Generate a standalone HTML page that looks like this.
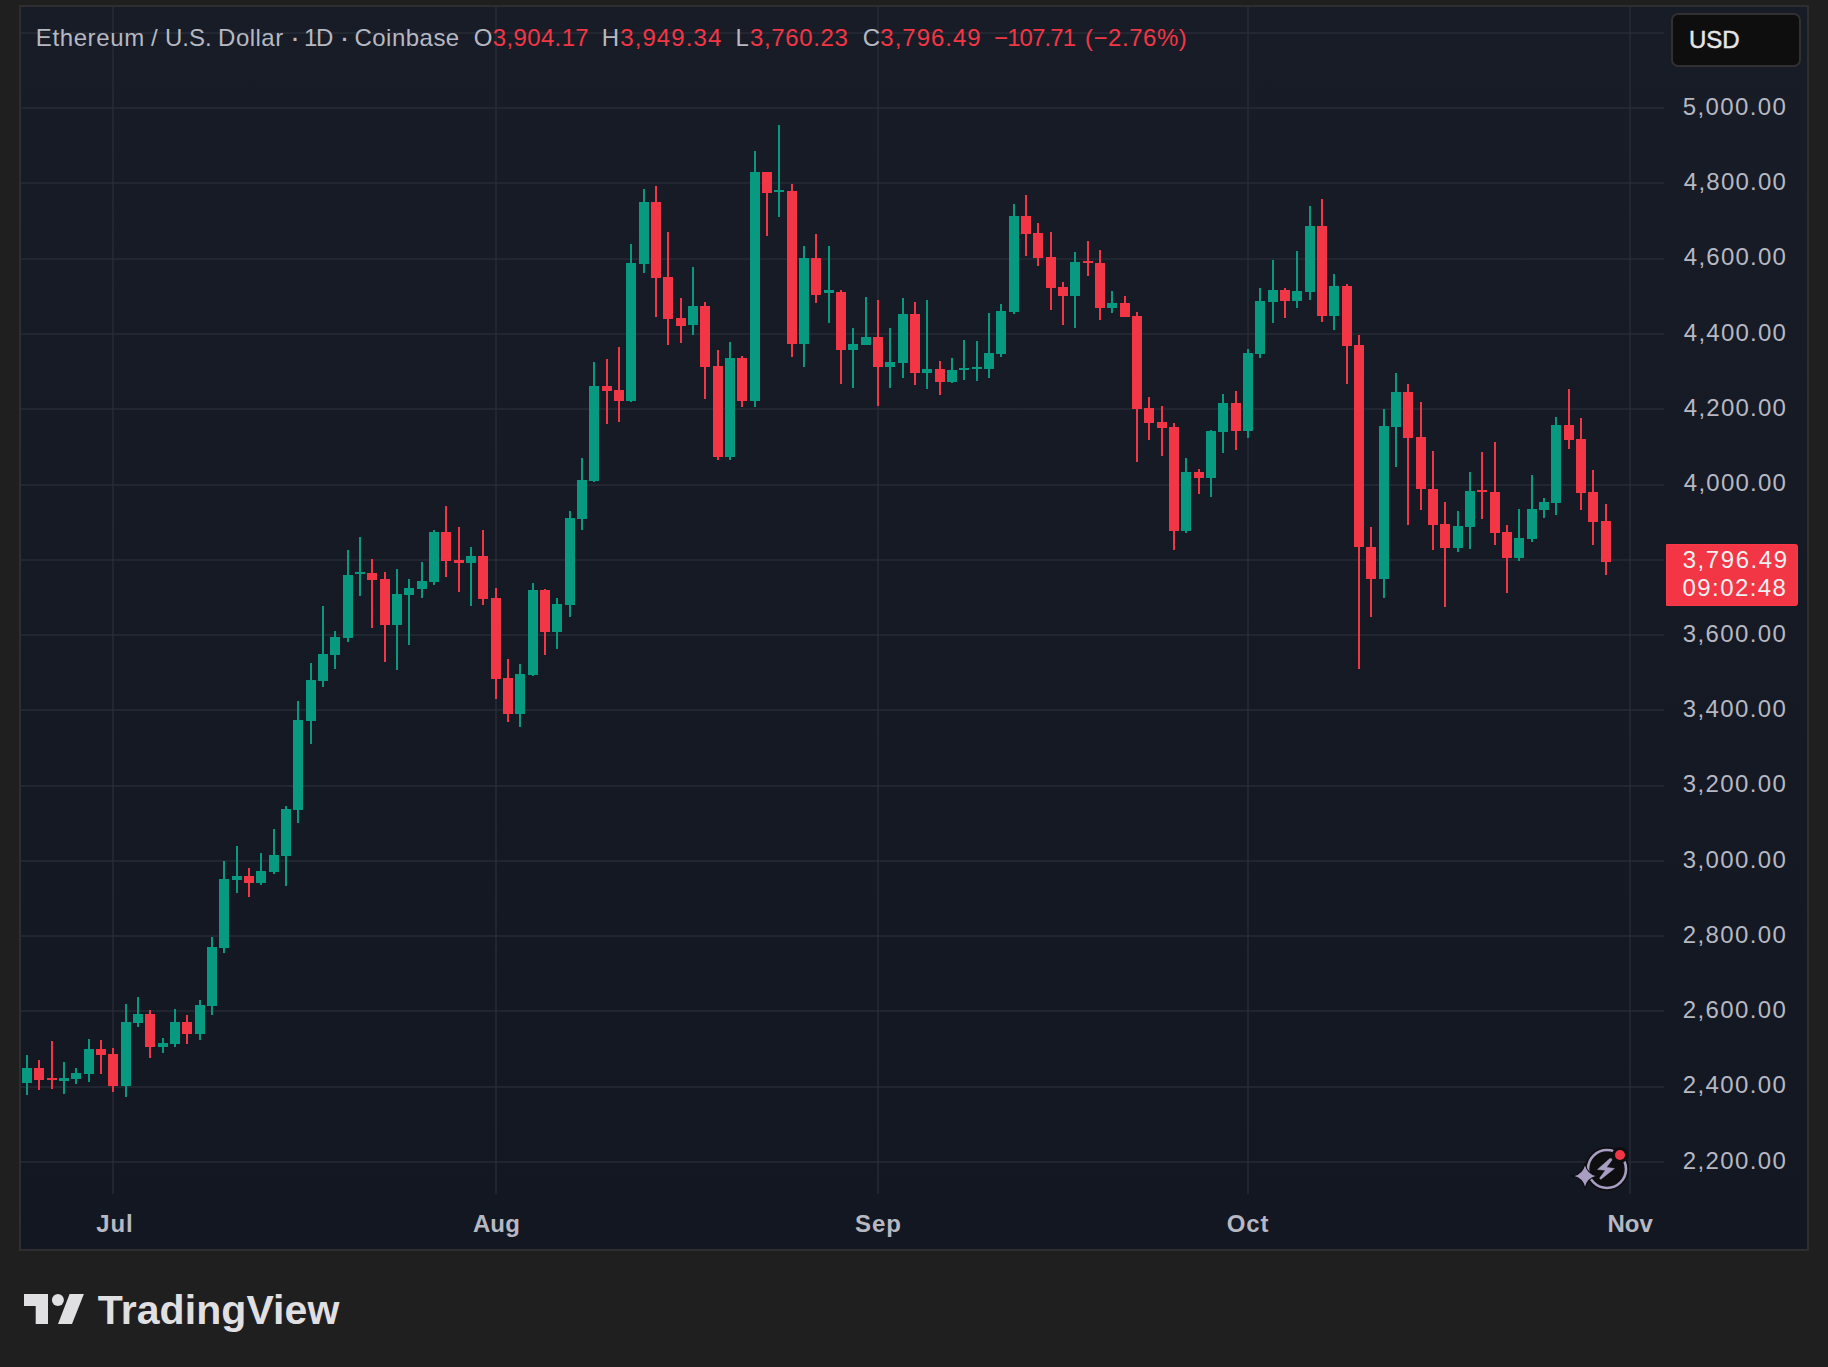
<!DOCTYPE html>
<html><head><meta charset="utf-8"><title>ETH/USD</title>
<style>
html,body{margin:0;padding:0;}
body{width:1828px;height:1367px;overflow:hidden;background:#1f1f1f;position:relative;font-family:"Liberation Sans",Arial,sans-serif;}
#box{position:absolute;left:19px;top:5px;width:1790px;height:1246px;box-sizing:border-box;border:2px solid #2e2e30;background:linear-gradient(to bottom,#181c27,#131722);}
svg{position:absolute;left:0;top:0;font-family:"Liberation Sans",Arial,sans-serif;}
</style></head>
<body>
<div id="box"></div>
<svg width="1828" height="1367" viewBox="0 0 1828 1367">
<rect x="21" y="32" width="1643" height="2" fill="rgba(42,46,57,0.6)"/>
<rect x="21" y="107" width="1643" height="2" fill="rgba(42,46,57,0.6)"/>
<rect x="21" y="182" width="1643" height="2" fill="rgba(42,46,57,0.6)"/>
<rect x="21" y="258" width="1643" height="2" fill="rgba(42,46,57,0.6)"/>
<rect x="21" y="333" width="1643" height="2" fill="rgba(42,46,57,0.6)"/>
<rect x="21" y="408" width="1643" height="2" fill="rgba(42,46,57,0.6)"/>
<rect x="21" y="484" width="1643" height="2" fill="rgba(42,46,57,0.6)"/>
<rect x="21" y="559" width="1643" height="2" fill="rgba(42,46,57,0.6)"/>
<rect x="21" y="634" width="1643" height="2" fill="rgba(42,46,57,0.6)"/>
<rect x="21" y="709" width="1643" height="2" fill="rgba(42,46,57,0.6)"/>
<rect x="21" y="785" width="1643" height="2" fill="rgba(42,46,57,0.6)"/>
<rect x="21" y="860" width="1643" height="2" fill="rgba(42,46,57,0.6)"/>
<rect x="21" y="935" width="1643" height="2" fill="rgba(42,46,57,0.6)"/>
<rect x="21" y="1010" width="1643" height="2" fill="rgba(42,46,57,0.6)"/>
<rect x="21" y="1086" width="1643" height="2" fill="rgba(42,46,57,0.6)"/>
<rect x="21" y="1161" width="1643" height="2" fill="rgba(42,46,57,0.6)"/>
<rect x="112" y="7" width="2" height="1187" fill="rgba(42,46,57,0.6)"/>
<rect x="495" y="7" width="2" height="1187" fill="rgba(42,46,57,0.6)"/>
<rect x="877" y="7" width="2" height="1187" fill="rgba(42,46,57,0.6)"/>
<rect x="1247" y="7" width="2" height="1187" fill="rgba(42,46,57,0.6)"/>
<rect x="1629" y="7" width="2" height="1187" fill="rgba(42,46,57,0.6)"/>
<rect x="26" y="1055" width="2" height="40" fill="#089981"/>
<rect x="22" y="1068" width="10" height="15" fill="#089981"/>
<rect x="38" y="1060" width="2" height="30" fill="#f23645"/>
<rect x="34" y="1068" width="10" height="12" fill="#f23645"/>
<rect x="51" y="1041" width="2" height="48" fill="#f23645"/>
<rect x="47" y="1078" width="10" height="2" fill="#f23645"/>
<rect x="63" y="1062" width="2" height="32" fill="#089981"/>
<rect x="59" y="1078" width="10" height="3" fill="#089981"/>
<rect x="75" y="1068" width="2" height="16" fill="#089981"/>
<rect x="71" y="1073" width="10" height="6" fill="#089981"/>
<rect x="88" y="1039" width="2" height="43" fill="#089981"/>
<rect x="84" y="1049" width="10" height="25" fill="#089981"/>
<rect x="100" y="1040" width="2" height="34" fill="#f23645"/>
<rect x="96" y="1049" width="10" height="6" fill="#f23645"/>
<rect x="112" y="1048" width="2" height="44" fill="#f23645"/>
<rect x="108" y="1054" width="10" height="32" fill="#f23645"/>
<rect x="125" y="1004" width="2" height="93" fill="#089981"/>
<rect x="121" y="1022" width="10" height="64" fill="#089981"/>
<rect x="137" y="997" width="2" height="30" fill="#089981"/>
<rect x="133" y="1014" width="10" height="9" fill="#089981"/>
<rect x="149" y="1010" width="2" height="48" fill="#f23645"/>
<rect x="145" y="1014" width="10" height="33" fill="#f23645"/>
<rect x="162" y="1038" width="2" height="15" fill="#089981"/>
<rect x="158" y="1043" width="10" height="4" fill="#089981"/>
<rect x="174" y="1009" width="2" height="38" fill="#089981"/>
<rect x="170" y="1022" width="10" height="22" fill="#089981"/>
<rect x="186" y="1015" width="2" height="29" fill="#f23645"/>
<rect x="182" y="1022" width="10" height="12" fill="#f23645"/>
<rect x="199" y="1000" width="2" height="40" fill="#089981"/>
<rect x="195" y="1005" width="10" height="29" fill="#089981"/>
<rect x="211" y="937" width="2" height="78" fill="#089981"/>
<rect x="207" y="947" width="10" height="59" fill="#089981"/>
<rect x="223" y="861" width="2" height="92" fill="#089981"/>
<rect x="219" y="879" width="10" height="69" fill="#089981"/>
<rect x="236" y="846" width="2" height="47" fill="#089981"/>
<rect x="232" y="876" width="10" height="4" fill="#089981"/>
<rect x="248" y="868" width="2" height="29" fill="#f23645"/>
<rect x="244" y="876" width="10" height="7" fill="#f23645"/>
<rect x="260" y="853" width="2" height="32" fill="#089981"/>
<rect x="256" y="871" width="10" height="12" fill="#089981"/>
<rect x="273" y="829" width="2" height="45" fill="#089981"/>
<rect x="269" y="855" width="10" height="17" fill="#089981"/>
<rect x="285" y="806" width="2" height="80" fill="#089981"/>
<rect x="281" y="809" width="10" height="47" fill="#089981"/>
<rect x="297" y="701" width="2" height="122" fill="#089981"/>
<rect x="293" y="720" width="10" height="90" fill="#089981"/>
<rect x="310" y="663" width="2" height="81" fill="#089981"/>
<rect x="306" y="680" width="10" height="41" fill="#089981"/>
<rect x="322" y="606" width="2" height="81" fill="#089981"/>
<rect x="318" y="654" width="10" height="27" fill="#089981"/>
<rect x="334" y="631" width="2" height="38" fill="#089981"/>
<rect x="330" y="637" width="10" height="18" fill="#089981"/>
<rect x="347" y="550" width="2" height="92" fill="#089981"/>
<rect x="343" y="575" width="10" height="63" fill="#089981"/>
<rect x="359" y="537" width="2" height="59" fill="#089981"/>
<rect x="355" y="572" width="10" height="2" fill="#089981"/>
<rect x="371" y="559" width="2" height="69" fill="#f23645"/>
<rect x="367" y="573" width="10" height="7" fill="#f23645"/>
<rect x="384" y="572" width="2" height="90" fill="#f23645"/>
<rect x="380" y="579" width="10" height="46" fill="#f23645"/>
<rect x="396" y="569" width="2" height="101" fill="#089981"/>
<rect x="392" y="594" width="10" height="31" fill="#089981"/>
<rect x="408" y="579" width="2" height="66" fill="#089981"/>
<rect x="404" y="588" width="10" height="7" fill="#089981"/>
<rect x="421" y="562" width="2" height="36" fill="#089981"/>
<rect x="417" y="581" width="10" height="8" fill="#089981"/>
<rect x="433" y="530" width="2" height="55" fill="#089981"/>
<rect x="429" y="532" width="10" height="50" fill="#089981"/>
<rect x="445" y="506" width="2" height="71" fill="#f23645"/>
<rect x="441" y="532" width="10" height="29" fill="#f23645"/>
<rect x="458" y="527" width="2" height="65" fill="#f23645"/>
<rect x="454" y="560" width="10" height="3" fill="#f23645"/>
<rect x="470" y="547" width="2" height="59" fill="#089981"/>
<rect x="466" y="556" width="10" height="7" fill="#089981"/>
<rect x="482" y="530" width="2" height="75" fill="#f23645"/>
<rect x="478" y="556" width="10" height="43" fill="#f23645"/>
<rect x="495" y="588" width="2" height="111" fill="#f23645"/>
<rect x="491" y="598" width="10" height="81" fill="#f23645"/>
<rect x="507" y="659" width="2" height="63" fill="#f23645"/>
<rect x="503" y="678" width="10" height="36" fill="#f23645"/>
<rect x="519" y="664" width="2" height="63" fill="#089981"/>
<rect x="515" y="674" width="10" height="40" fill="#089981"/>
<rect x="532" y="583" width="2" height="93" fill="#089981"/>
<rect x="528" y="590" width="10" height="85" fill="#089981"/>
<rect x="544" y="589" width="2" height="66" fill="#f23645"/>
<rect x="540" y="590" width="10" height="42" fill="#f23645"/>
<rect x="556" y="598" width="2" height="51" fill="#089981"/>
<rect x="552" y="604" width="10" height="28" fill="#089981"/>
<rect x="569" y="511" width="2" height="106" fill="#089981"/>
<rect x="565" y="518" width="10" height="87" fill="#089981"/>
<rect x="581" y="458" width="2" height="72" fill="#089981"/>
<rect x="577" y="480" width="10" height="39" fill="#089981"/>
<rect x="593" y="362" width="2" height="120" fill="#089981"/>
<rect x="589" y="386" width="10" height="95" fill="#089981"/>
<rect x="606" y="359" width="2" height="65" fill="#f23645"/>
<rect x="602" y="386" width="10" height="5" fill="#f23645"/>
<rect x="618" y="347" width="2" height="75" fill="#f23645"/>
<rect x="614" y="390" width="10" height="11" fill="#f23645"/>
<rect x="630" y="244" width="2" height="158" fill="#089981"/>
<rect x="626" y="263" width="10" height="138" fill="#089981"/>
<rect x="643" y="189" width="2" height="84" fill="#089981"/>
<rect x="639" y="202" width="10" height="62" fill="#089981"/>
<rect x="655" y="186" width="2" height="131" fill="#f23645"/>
<rect x="651" y="202" width="10" height="76" fill="#f23645"/>
<rect x="667" y="232" width="2" height="113" fill="#f23645"/>
<rect x="663" y="277" width="10" height="42" fill="#f23645"/>
<rect x="680" y="298" width="2" height="45" fill="#f23645"/>
<rect x="676" y="318" width="10" height="8" fill="#f23645"/>
<rect x="692" y="267" width="2" height="68" fill="#089981"/>
<rect x="688" y="306" width="10" height="19" fill="#089981"/>
<rect x="704" y="302" width="2" height="97" fill="#f23645"/>
<rect x="700" y="306" width="10" height="61" fill="#f23645"/>
<rect x="717" y="350" width="2" height="110" fill="#f23645"/>
<rect x="713" y="366" width="10" height="91" fill="#f23645"/>
<rect x="729" y="342" width="2" height="118" fill="#089981"/>
<rect x="725" y="358" width="10" height="99" fill="#089981"/>
<rect x="741" y="356" width="2" height="51" fill="#f23645"/>
<rect x="737" y="358" width="10" height="43" fill="#f23645"/>
<rect x="754" y="151" width="2" height="256" fill="#089981"/>
<rect x="750" y="172" width="10" height="229" fill="#089981"/>
<rect x="766" y="172" width="2" height="64" fill="#f23645"/>
<rect x="762" y="172" width="10" height="21" fill="#f23645"/>
<rect x="778" y="125" width="2" height="92" fill="#089981"/>
<rect x="774" y="190" width="10" height="2" fill="#089981"/>
<rect x="791" y="184" width="2" height="173" fill="#f23645"/>
<rect x="787" y="191" width="10" height="153" fill="#f23645"/>
<rect x="803" y="246" width="2" height="121" fill="#089981"/>
<rect x="799" y="258" width="10" height="86" fill="#089981"/>
<rect x="815" y="234" width="2" height="69" fill="#f23645"/>
<rect x="811" y="258" width="10" height="37" fill="#f23645"/>
<rect x="828" y="246" width="2" height="77" fill="#089981"/>
<rect x="824" y="290" width="10" height="3" fill="#089981"/>
<rect x="840" y="290" width="2" height="94" fill="#f23645"/>
<rect x="836" y="292" width="10" height="58" fill="#f23645"/>
<rect x="852" y="328" width="2" height="60" fill="#089981"/>
<rect x="848" y="344" width="10" height="6" fill="#089981"/>
<rect x="865" y="297" width="2" height="48" fill="#089981"/>
<rect x="861" y="337" width="10" height="8" fill="#089981"/>
<rect x="877" y="300" width="2" height="106" fill="#f23645"/>
<rect x="873" y="337" width="10" height="30" fill="#f23645"/>
<rect x="889" y="328" width="2" height="60" fill="#089981"/>
<rect x="885" y="362" width="10" height="5" fill="#089981"/>
<rect x="902" y="298" width="2" height="80" fill="#089981"/>
<rect x="898" y="314" width="10" height="49" fill="#089981"/>
<rect x="914" y="302" width="2" height="83" fill="#f23645"/>
<rect x="910" y="314" width="10" height="59" fill="#f23645"/>
<rect x="926" y="300" width="2" height="89" fill="#089981"/>
<rect x="922" y="369" width="10" height="4" fill="#089981"/>
<rect x="939" y="361" width="2" height="34" fill="#f23645"/>
<rect x="935" y="369" width="10" height="13" fill="#f23645"/>
<rect x="951" y="358" width="2" height="25" fill="#089981"/>
<rect x="947" y="370" width="10" height="12" fill="#089981"/>
<rect x="963" y="340" width="2" height="40" fill="#089981"/>
<rect x="959" y="368" width="10" height="2" fill="#089981"/>
<rect x="976" y="341" width="2" height="40" fill="#089981"/>
<rect x="972" y="367" width="10" height="2" fill="#089981"/>
<rect x="988" y="313" width="2" height="65" fill="#089981"/>
<rect x="984" y="353" width="10" height="16" fill="#089981"/>
<rect x="1000" y="304" width="2" height="53" fill="#089981"/>
<rect x="996" y="311" width="10" height="43" fill="#089981"/>
<rect x="1013" y="204" width="2" height="110" fill="#089981"/>
<rect x="1009" y="216" width="10" height="96" fill="#089981"/>
<rect x="1025" y="195" width="2" height="61" fill="#f23645"/>
<rect x="1021" y="216" width="10" height="18" fill="#f23645"/>
<rect x="1037" y="223" width="2" height="43" fill="#f23645"/>
<rect x="1033" y="233" width="10" height="25" fill="#f23645"/>
<rect x="1050" y="232" width="2" height="78" fill="#f23645"/>
<rect x="1046" y="257" width="10" height="31" fill="#f23645"/>
<rect x="1062" y="282" width="2" height="43" fill="#f23645"/>
<rect x="1058" y="287" width="10" height="9" fill="#f23645"/>
<rect x="1074" y="252" width="2" height="76" fill="#089981"/>
<rect x="1070" y="262" width="10" height="34" fill="#089981"/>
<rect x="1087" y="241" width="2" height="35" fill="#f23645"/>
<rect x="1083" y="261" width="10" height="2" fill="#f23645"/>
<rect x="1099" y="250" width="2" height="70" fill="#f23645"/>
<rect x="1095" y="263" width="10" height="45" fill="#f23645"/>
<rect x="1111" y="291" width="2" height="22" fill="#089981"/>
<rect x="1107" y="303" width="10" height="5" fill="#089981"/>
<rect x="1124" y="296" width="2" height="21" fill="#f23645"/>
<rect x="1120" y="303" width="10" height="14" fill="#f23645"/>
<rect x="1136" y="312" width="2" height="150" fill="#f23645"/>
<rect x="1132" y="316" width="10" height="93" fill="#f23645"/>
<rect x="1148" y="397" width="2" height="43" fill="#f23645"/>
<rect x="1144" y="408" width="10" height="15" fill="#f23645"/>
<rect x="1161" y="406" width="2" height="50" fill="#f23645"/>
<rect x="1157" y="422" width="10" height="6" fill="#f23645"/>
<rect x="1173" y="423" width="2" height="127" fill="#f23645"/>
<rect x="1169" y="427" width="10" height="104" fill="#f23645"/>
<rect x="1185" y="458" width="2" height="75" fill="#089981"/>
<rect x="1181" y="472" width="10" height="59" fill="#089981"/>
<rect x="1198" y="469" width="2" height="25" fill="#f23645"/>
<rect x="1194" y="472" width="10" height="6" fill="#f23645"/>
<rect x="1210" y="430" width="2" height="67" fill="#089981"/>
<rect x="1206" y="431" width="10" height="47" fill="#089981"/>
<rect x="1222" y="394" width="2" height="59" fill="#089981"/>
<rect x="1218" y="403" width="10" height="29" fill="#089981"/>
<rect x="1235" y="391" width="2" height="59" fill="#f23645"/>
<rect x="1231" y="403" width="10" height="28" fill="#f23645"/>
<rect x="1247" y="349" width="2" height="89" fill="#089981"/>
<rect x="1243" y="353" width="10" height="78" fill="#089981"/>
<rect x="1259" y="288" width="2" height="70" fill="#089981"/>
<rect x="1255" y="301" width="10" height="53" fill="#089981"/>
<rect x="1272" y="260" width="2" height="63" fill="#089981"/>
<rect x="1268" y="290" width="10" height="12" fill="#089981"/>
<rect x="1284" y="288" width="2" height="30" fill="#f23645"/>
<rect x="1280" y="290" width="10" height="11" fill="#f23645"/>
<rect x="1296" y="251" width="2" height="57" fill="#089981"/>
<rect x="1292" y="291" width="10" height="10" fill="#089981"/>
<rect x="1309" y="206" width="2" height="94" fill="#089981"/>
<rect x="1305" y="226" width="10" height="66" fill="#089981"/>
<rect x="1321" y="199" width="2" height="123" fill="#f23645"/>
<rect x="1317" y="226" width="10" height="90" fill="#f23645"/>
<rect x="1333" y="274" width="2" height="56" fill="#089981"/>
<rect x="1329" y="286" width="10" height="30" fill="#089981"/>
<rect x="1346" y="284" width="2" height="100" fill="#f23645"/>
<rect x="1342" y="286" width="10" height="60" fill="#f23645"/>
<rect x="1358" y="335" width="2" height="334" fill="#f23645"/>
<rect x="1354" y="345" width="10" height="202" fill="#f23645"/>
<rect x="1370" y="527" width="2" height="90" fill="#f23645"/>
<rect x="1366" y="547" width="10" height="32" fill="#f23645"/>
<rect x="1383" y="409" width="2" height="189" fill="#089981"/>
<rect x="1379" y="426" width="10" height="153" fill="#089981"/>
<rect x="1395" y="373" width="2" height="94" fill="#089981"/>
<rect x="1391" y="392" width="10" height="35" fill="#089981"/>
<rect x="1407" y="384" width="2" height="141" fill="#f23645"/>
<rect x="1403" y="392" width="10" height="46" fill="#f23645"/>
<rect x="1420" y="402" width="2" height="108" fill="#f23645"/>
<rect x="1416" y="437" width="10" height="52" fill="#f23645"/>
<rect x="1432" y="451" width="2" height="99" fill="#f23645"/>
<rect x="1428" y="489" width="10" height="36" fill="#f23645"/>
<rect x="1444" y="502" width="2" height="105" fill="#f23645"/>
<rect x="1440" y="524" width="10" height="24" fill="#f23645"/>
<rect x="1457" y="511" width="2" height="41" fill="#089981"/>
<rect x="1453" y="526" width="10" height="22" fill="#089981"/>
<rect x="1469" y="472" width="2" height="77" fill="#089981"/>
<rect x="1465" y="491" width="10" height="36" fill="#089981"/>
<rect x="1481" y="452" width="2" height="67" fill="#f23645"/>
<rect x="1477" y="490" width="10" height="2" fill="#f23645"/>
<rect x="1494" y="442" width="2" height="103" fill="#f23645"/>
<rect x="1490" y="492" width="10" height="41" fill="#f23645"/>
<rect x="1506" y="525" width="2" height="68" fill="#f23645"/>
<rect x="1502" y="532" width="10" height="26" fill="#f23645"/>
<rect x="1518" y="509" width="2" height="52" fill="#089981"/>
<rect x="1514" y="538" width="10" height="20" fill="#089981"/>
<rect x="1531" y="475" width="2" height="67" fill="#089981"/>
<rect x="1527" y="509" width="10" height="30" fill="#089981"/>
<rect x="1543" y="498" width="2" height="20" fill="#089981"/>
<rect x="1539" y="502" width="10" height="8" fill="#089981"/>
<rect x="1555" y="417" width="2" height="98" fill="#089981"/>
<rect x="1551" y="425" width="10" height="78" fill="#089981"/>
<rect x="1568" y="389" width="2" height="60" fill="#f23645"/>
<rect x="1564" y="425" width="10" height="15" fill="#f23645"/>
<rect x="1580" y="418" width="2" height="92" fill="#f23645"/>
<rect x="1576" y="439" width="10" height="54" fill="#f23645"/>
<rect x="1592" y="470" width="2" height="75" fill="#f23645"/>
<rect x="1588" y="492" width="10" height="30" fill="#f23645"/>
<rect x="1605" y="504" width="2" height="71" fill="#f23645"/>
<rect x="1601" y="521" width="10" height="41" fill="#f23645"/>
<rect x="1672" y="14" width="128" height="52" rx="6" fill="#0e0e0f" stroke="#303033" stroke-width="2"/>
<path d="M1666.5 544.5H1795.5a2 2 0 0 1 2 2V603.5a2 2 0 0 1 -2 2H1666.5Z" fill="#f23645" stroke="#fc3949" stroke-width="1"/>
<text x="1682.80" y="115" style="font-size:24px;letter-spacing:1.386px" fill="#b6b8c2">5,000.00</text>
<text x="1683.80" y="190" style="font-size:24px;letter-spacing:1.243px" fill="#b6b8c2">4,800.00</text>
<text x="1683.80" y="265" style="font-size:24px;letter-spacing:1.243px" fill="#b6b8c2">4,600.00</text>
<text x="1683.80" y="341" style="font-size:24px;letter-spacing:1.243px" fill="#b6b8c2">4,400.00</text>
<text x="1683.80" y="416" style="font-size:24px;letter-spacing:1.243px" fill="#b6b8c2">4,200.00</text>
<text x="1683.80" y="491" style="font-size:24px;letter-spacing:1.243px" fill="#b6b8c2">4,000.00</text>
<text x="1682.80" y="642" style="font-size:24px;letter-spacing:1.386px" fill="#b6b8c2">3,600.00</text>
<text x="1682.80" y="717" style="font-size:24px;letter-spacing:1.386px" fill="#b6b8c2">3,400.00</text>
<text x="1682.80" y="792" style="font-size:24px;letter-spacing:1.386px" fill="#b6b8c2">3,200.00</text>
<text x="1682.80" y="868" style="font-size:24px;letter-spacing:1.386px" fill="#b6b8c2">3,000.00</text>
<text x="1682.80" y="943" style="font-size:24px;letter-spacing:1.386px" fill="#b6b8c2">2,800.00</text>
<text x="1682.80" y="1018" style="font-size:24px;letter-spacing:1.386px" fill="#b6b8c2">2,600.00</text>
<text x="1682.80" y="1093" style="font-size:24px;letter-spacing:1.386px" fill="#b6b8c2">2,400.00</text>
<text x="1682.80" y="1169" style="font-size:24px;letter-spacing:1.386px" fill="#b6b8c2">2,200.00</text>
<text x="290" y="47" style="font-size:30px" fill="#b6b8c2">·</text>
<text x="339.5" y="47" style="font-size:30px" fill="#b6b8c2">·</text>
<text x="35.8" y="46" style="font-size:24px;letter-spacing:0.614px" fill="#b6b8c2">Ethereum</text>
<text x="150.9" y="46" style="font-size:24px;letter-spacing:0.0px" fill="#b6b8c2">/</text>
<text x="165.0" y="46" style="font-size:24px;letter-spacing:0.0px" fill="#b6b8c2">U.S.</text>
<text x="218.1" y="46" style="font-size:24px;letter-spacing:0.48px" fill="#b6b8c2">Dollar</text>
<text x="304.0" y="46" style="font-size:24px;letter-spacing:-1.3px" fill="#b6b8c2">1D</text>
<text x="354.5" y="46" style="font-size:24px;letter-spacing:0.471px" fill="#b6b8c2">Coinbase</text>
<text x="473.7" y="46" style="font-size:24px;letter-spacing:0.0px" fill="#b6b8c2">O</text>
<text x="492.7" y="46" style="font-size:24px;letter-spacing:0.371px" fill="#f23645">3,904.17</text>
<text x="601.8" y="46" style="font-size:24px;letter-spacing:0.0px" fill="#b6b8c2">H</text>
<text x="620.2" y="46" style="font-size:24px;letter-spacing:1.1px" fill="#f23645">3,949.34</text>
<text x="735.5" y="46" style="font-size:24px;letter-spacing:0.0px" fill="#b6b8c2">L</text>
<text x="750.0" y="46" style="font-size:24px;letter-spacing:0.643px" fill="#f23645">3,760.23</text>
<text x="862.8" y="46" style="font-size:24px;letter-spacing:0.0px" fill="#b6b8c2">C</text>
<text x="880.3" y="46" style="font-size:24px;letter-spacing:1.0px" fill="#f23645">3,796.49</text>
<text x="994.1" y="46" style="font-size:24px;letter-spacing:-0.917px" fill="#f23645">−107.71</text>
<text x="1085.0" y="46" style="font-size:24px;letter-spacing:0.529px" fill="#f23645">(−2.76%)</text>
<text x="1682.7" y="568" style="font-size:24px;letter-spacing:1.571px" fill="#f0f0f0">3,796.49</text>
<text x="1682.5" y="596" style="font-size:24px;letter-spacing:1.429px" fill="#f0f0f0">09:02:48</text>
<text x="96.3" y="1232" style="font-size:24px;font-weight:bold;letter-spacing:0.8px" fill="#b6b8c2">Jul</text>
<text x="472.9" y="1232" style="font-size:24px;font-weight:bold;letter-spacing:0.15px" fill="#b6b8c2">Aug</text>
<text x="855.1" y="1232" style="font-size:24px;font-weight:bold;letter-spacing:0.95px" fill="#b6b8c2">Sep</text>
<text x="1226.7" y="1232" style="font-size:24px;font-weight:bold;letter-spacing:0.85px" fill="#b6b8c2">Oct</text>
<text x="1607.4" y="1232" style="font-size:24px;font-weight:bold;letter-spacing:0.05px" fill="#b6b8c2">Nov</text>
<text x="1689.0" y="48" style="font-size:24px;letter-spacing:0.0px;stroke:#e6e6e6;stroke-width:0.45px" fill="#e6e6e6">USD</text>
<g id="icon">
<circle cx="1607" cy="1169" r="22" fill="#0e0e10"/>
<circle cx="1607" cy="1169" r="19" fill="none" stroke="#a89ec2" stroke-width="2.6"/>
<circle cx="1620" cy="1155" r="8" fill="#0e0e10"/>
<circle cx="1620" cy="1155" r="5" fill="#f23645"/>
<path d="M1609.8 1158.6 L1611.4 1158.5 L1612.1 1159.9 L1606.6 1167.3 L1614.5 1168.5 L1601.4 1178.9 L1600.2 1179.2 L1599.6 1178.1 L1605.3 1170.3 L1597.4 1169.5 Z" fill="#a89ec2" stroke="#a89ec2" stroke-width="0.4" stroke-linejoin="round"/>
<path d="M1585 1165.5 Q1587.2 1173.8 1595.5 1176 Q1587.2 1178.2 1585 1186.5 Q1582.8 1178.2 1574.5 1176 Q1582.8 1173.8 1585 1165.5Z" fill="#a89ec2" stroke="#0e0e10" stroke-width="2.2" paint-order="stroke"/>
</g>
<g id="logo" fill="#e0dfe1">
<path d="M24 1294H48V1324H35.7V1306H24Z"/>
<circle cx="57.9" cy="1300" r="6"/>
<path d="M69.6 1294H83.9L72 1324H58Z"/>
<text x="97.8" y="1324" style="font-size:41px;font-weight:bold;letter-spacing:0.08px">TradingView</text>
</g>
</svg>
</body></html>
